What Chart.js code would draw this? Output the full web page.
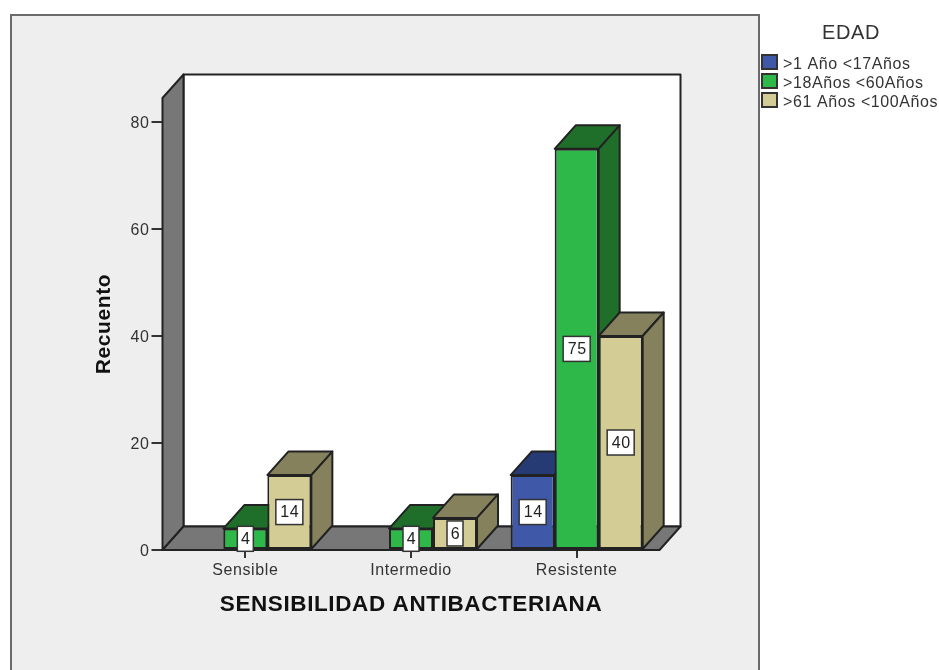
<!DOCTYPE html>
<html>
<head>
<meta charset="utf-8">
<title>Sensibilidad antibacteriana</title>
<script src="https://cdn.jsdelivr.net/npm/chart.js@4"></script>
<style>
  html, body { margin: 0; padding: 0; background: #fff; overflow: hidden; }
  #panel {
    position: absolute; left: 10px; top: 14px; width: 746px; height: 670px;
    background: #eeeeee; border: 2px solid #6a6a6a; border-bottom: none;
  }
  #myChart { position: absolute; left: 0; top: 0; }
</style>
</head>
<body>
<div id="panel"></div>
<canvas id="myChart" width="939" height="670"></canvas>
<script>
const categories = ['Sensible', 'Intermedio', 'Resistente'];
const ageGroups = ['>1 Año <17Años', '>18Años <60Años', '>61 Años <100Años'];
const youngValues = [null, null, 14];
const adultValues = [4, 4, 75];
const olderValues = [14, 6, 40];
const yTicks = [0, 20, 40, 60, 80];

const frontColors = ['#3f58a8', '#2eb84a', '#d3cd95'];
const shadeColors = ['#263a74', '#1f6e2a', '#85815c'];
const lineColor = '#222222';
const textColor = '#333333';
const fontFamily = '"Liberation Sans"';
const depthX = 21;
const depthY = -23.5;

function polygon(ctx, points, fill) {
  ctx.beginPath();
  points.forEach((p, i) => i ? ctx.lineTo(p[0], p[1]) : ctx.moveTo(p[0], p[1]));
  ctx.closePath();
  ctx.fillStyle = fill;
  ctx.fill();
  ctx.stroke();
}

function edgeStyle(ctx) {
  ctx.lineWidth = 2;
  ctx.strokeStyle = lineColor;
  ctx.lineJoin = 'round';
}

// back wall, left wall and floor of the box
const boxWalls = {
  id: 'boxWalls',
  beforeDraw(chart) {
    chart.ctx.letterSpacing = '0.6px';
  },
  beforeDatasetsDraw(chart) {
    const { ctx, chartArea: a } = chart;
    ctx.save();
    edgeStyle(ctx);
    polygon(ctx, [[a.left + depthX, a.top + depthY], [a.right + depthX, a.top + depthY],
      [a.right + depthX, a.bottom + depthY], [a.left + depthX, a.bottom + depthY]], '#ffffff');
    polygon(ctx, [[a.left, a.top], [a.left + depthX, a.top + depthY],
      [a.left + depthX, a.bottom + depthY], [a.left, a.bottom]], '#777777');
    polygon(ctx, [[a.left, a.bottom], [a.left + depthX, a.bottom + depthY],
      [a.right + depthX, a.bottom + depthY], [a.right, a.bottom]], '#777777');
    ctx.restore();
  }
};

// bars go left to right so the right one overlaps its neighbour's side;
// chart.js would paint them the other way round, so its own pass is cancelled
const solidBars = {
  id: 'solidBars',
  beforeDatasetDraw() {
    return false;
  },
  afterDatasetsDraw(chart) {
    const ctx = chart.ctx;
    chart.data.datasets.forEach((ds, d) => {
      const shade = shadeColors[d];
      chart.getDatasetMeta(d).data.forEach((bar, i) => {
        if (ds.data[i] === null) return;
        const l = bar.x - bar.width / 2, r = bar.x + bar.width / 2;
        ctx.save();
        edgeStyle(ctx);
        polygon(ctx, [[l, bar.y], [l + depthX, bar.y + depthY], [r + depthX, bar.y + depthY], [r, bar.y]], shade);
        polygon(ctx, [[r, bar.y], [r + depthX, bar.y + depthY], [r + depthX, bar.base + depthY], [r, bar.base]], shade);
        ctx.restore();
        bar.draw(ctx);
      });
    });
  }
};

// white value boxes in the middle of the bars
const valueBoxes = {
  id: 'valueBoxes',
  afterDatasetsDraw(chart) {
    const ctx = chart.ctx;
    ctx.save();
    ctx.font = '16px ' + fontFamily;
    ctx.textAlign = 'center';
    ctx.textBaseline = 'middle';
    chart.data.datasets.forEach((ds, d) => {
      chart.getDatasetMeta(d).data.forEach((bar, i) => {
        const v = ds.data[i];
        if (v === null) return;
        const text = String(v);
        const w = text.length > 1 ? 27 : 16;
        const h = 25;
        const cy = (bar.y + bar.base) / 2;
        ctx.fillStyle = '#ffffff';
        ctx.strokeStyle = textColor;
        ctx.lineWidth = 1.5;
        ctx.fillRect(bar.x - w / 2, cy - h / 2, w, h);
        ctx.strokeRect(bar.x - w / 2, cy - h / 2, w, h);
        ctx.fillStyle = lineColor;
        ctx.fillText(text, bar.x + 0.5, cy + 1);
      });
    });
    ctx.restore();
  }
};

// legend sits outside the panel, to the right of the box
const sideLegend = {
  id: 'sideLegend',
  afterDraw(chart) {
    const ctx = chart.ctx;
    ctx.save();
    ctx.fillStyle = textColor;
    ctx.font = '20px ' + fontFamily;
    ctx.textAlign = 'center';
    ctx.textBaseline = 'middle';
    ctx.fillText('EDAD', 851, 33);
    ctx.font = '16px ' + fontFamily;
    ctx.textAlign = 'left';
    ageGroups.forEach((label, i) => {
      const y = 55 + i * 19;
      ctx.fillStyle = frontColors[i];
      ctx.strokeStyle = textColor;
      ctx.lineWidth = 2;
      ctx.fillRect(762, y, 15, 14);
      ctx.strokeRect(762, y, 15, 14);
      ctx.fillStyle = textColor;
      ctx.fillText(label, 783, y + 9.5);
    });
    ctx.restore();
  }
};

function barSet(index, values) {
  return {
    label: ageGroups[index],
    data: values,
    backgroundColor: frontColors[index],
    borderColor: lineColor,
    borderWidth: 2,
    borderSkipped: false,
    barPercentage: 1,
    categoryPercentage: 0.797
  };
}

const ctx = document.getElementById('myChart');

new Chart(ctx, {
  type: 'bar',
  data: {
    labels: categories,
    datasets: [
      barSet(0, youngValues),
      barSet(1, adultValues),
      barSet(2, olderValues)
    ]
  },
  plugins: [boxWalls, solidBars, valueBoxes, sideLegend],
  options: {
    responsive: false,
    animation: false,
    layout: { padding: { left: 0, right: 279.5, top: 98, bottom: 0 } },
    plugins: {
      legend: { display: false },
      tooltip: { enabled: false }
    },
    scales: {
      x: {
        afterFit(scale) { scale.height = 120; },
        grid: { offset: false, drawOnChartArea: false, tickLength: 8, tickColor: textColor, lineWidth: 2 },
        border: { display: false },
        ticks: { padding: 3, color: textColor, font: { family: fontFamily, size: 16 } },
        title: {
          display: true,
          text: 'SENSIBILIDAD ANTIBACTERIANA',
          color: '#111111',
          font: { family: fontFamily, size: 22.5, weight: 'bold' },
          padding: { bottom: 52, top: 0 }
        }
      },
      y: {
        min: 0,
        max: 84.5,
        afterFit(scale) { scale.width = 162.5; },
        afterBuildTicks(scale) { scale.ticks = yTicks.map(v => ({ value: v })); },
        grid: { drawOnChartArea: false, tickLength: 11, tickColor: textColor, lineWidth: 2 },
        border: { display: false },
        ticks: { padding: 2, labelOffset: 1.5, color: textColor, font: { family: fontFamily, size: 16 } },
        title: {
          display: true,
          text: 'Recuento',
          color: '#111111',
          font: { family: fontFamily, size: 21, weight: 'bold' },
          padding: { top: 92, bottom: 0 }
        }
      }
    }
  }
});
</script>
</body>
</html>
